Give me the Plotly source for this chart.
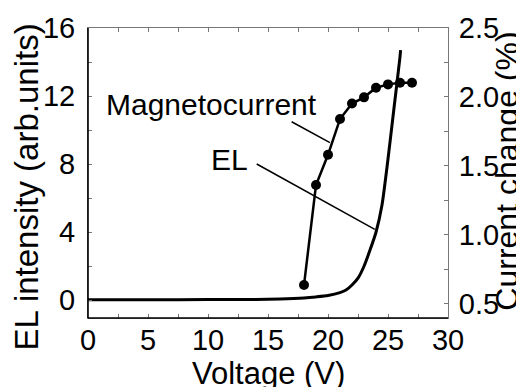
import plotly.graph_objects as go

# EL intensity vs voltage (left axis)
el_voltage = [0, 5, 10, 14, 16, 18, 19, 20, 21, 21.5, 22, 22.5, 23, 23.5, 24, 24.5, 25, 25.5, 26, 26.05]
el_intensity = [0.03, 0.03, 0.04, 0.05, 0.08, 0.14, 0.2, 0.28, 0.45, 0.6, 0.9, 1.3, 2.0, 2.95, 4.0, 5.6, 8.3, 11.3, 14.3, 14.7]

# Magnetocurrent (right axis)
mc_voltage = [18, 19, 20, 21, 22, 23, 24, 25, 26, 27]
mc_change = [0.635, 1.361, 1.58, 1.84, 1.952, 1.997, 2.067, 2.091, 2.103, 2.103]

x_ticks = [0, 5, 10, 15, 20, 25, 30]
y_ticks = [0, 4, 8, 12, 16]
y2_ticks = [0.5, 1.0, 1.5, 2.0, 2.5]

FONT = "Liberation Sans, Arial, sans-serif"
GRAY = "#777777"

fig = go.Figure()
fig.add_trace(go.Scatter(x=el_voltage, y=el_intensity, mode="lines",
                         line=dict(color="black", width=3, shape="spline", smoothing=0.6),
                         showlegend=False, hoverinfo="skip"))
fig.add_trace(go.Scatter(x=mc_voltage, y=mc_change, mode="lines+markers", yaxis="y2",
                         line=dict(color="black", width=2.5),
                         marker=dict(color="black", size=10),
                         showlegend=False, hoverinfo="skip"))

axis_common = dict(showgrid=False, zeroline=False, ticks="inside", ticklen=4, tickwidth=1,
                   tickcolor=GRAY, linecolor=GRAY, linewidth=1, showline=True, automargin=False,
                   tickfont=dict(family=FONT, size=29, color="black"))

fig.update_layout(
    width=516, height=379,
    margin=dict(l=80, r=76, t=20, b=69),
    paper_bgcolor="white", plot_bgcolor="white",
    xaxis=dict(range=[0, 30], tickvals=x_ticks, mirror="allticks",
               minor=dict(dtick=2.5, ticks="inside", ticklen=4, tickcolor=GRAY),
               ticklabelstandoff=-4, **axis_common),
    yaxis=dict(range=[-1.04, 16], tickvals=y_ticks,
               minor=dict(dtick=2, tick0=0, ticks="inside", ticklen=4, tickcolor=GRAY),
               ticklabelstandoff=6, **axis_common),
    yaxis2=dict(range=[0.396, 2.5001], tickvals=y2_ticks, tickformat=".1f",
                overlaying="y", side="right",
                minor=dict(dtick=0.25, tick0=0.5, ticks="inside", ticklen=4, tickcolor=GRAY),
                ticklabelstandoff=4, **axis_common),
)

# black left and bottom axis lines
fig.add_shape(type="line", xref="paper", yref="paper", x0=0, x1=1, y0=0, y1=0,
              line=dict(color="black", width=1.6))
fig.add_shape(type="line", xref="paper", yref="paper", x0=0, x1=0, y0=0, y1=1,
              line=dict(color="black", width=1.6))

# pointer lines
fig.add_shape(type="line", xref="x", yref="y", x0=16.97, y0=10.49, x1=20.16, y1=9.26,
              line=dict(color="black", width=1.5))
fig.add_shape(type="line", xref="x", yref="y", x0=14.06, y0=8.01, x1=23.9, y1=4.17,
              line=dict(color="black", width=1.5))

fig.add_annotation(text="Magnetocurrent", x=1.3, y=11.5, xref="x", yref="y",
                   xanchor="left", yanchor="middle", showarrow=False,
                   font=dict(family=FONT, size=30, color="black"))
fig.add_annotation(text="EL", x=10.1, y=8.3, xref="x", yref="y",
                   xanchor="left", yanchor="middle", showarrow=False,
                   font=dict(family=FONT, size=30, color="black"))

# axis titles
fig.add_annotation(text="Voltage (V)", x=0.5, y=-0.19, xref="paper", yref="paper",
                   xanchor="center", yanchor="middle", showarrow=False,
                   font=dict(family=FONT, size=31, color="black"))
fig.add_annotation(text="EL intensity (arb.units)", x=-0.17, y=0.453, xref="paper", yref="paper",
                   xanchor="center", yanchor="middle", showarrow=False, textangle=-90,
                   font=dict(family=FONT, size=33, color="black"))
fig.add_annotation(text="Current change (%)", x=1.163, y=0.507, xref="paper", yref="paper",
                   xanchor="center", yanchor="middle", showarrow=False, textangle=-90,
                   font=dict(family=FONT, size=32, color="black"))

fig.write_html("out.html")
